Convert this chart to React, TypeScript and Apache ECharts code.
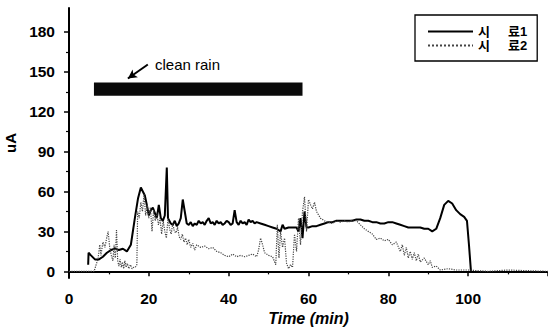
import React, { useEffect, useRef } from "react";
import * as echarts from "echarts";

const yLabelValues = [0, 30, 60, 90, 120, 150, 180];
const yMinorValues = [15, 45, 75, 105, 135, 165];
const seriesNames = ["시     료1", "시     료2"];

const s1Time = [4.8, 4.9, 5.5, 6.5, 7.5, 8.5, 9.5, 10.5, 11.5, 12.5, 13.5, 14.5, 15.5, 16.5, 17.3, 18, 18.5, 19, 19.5, 20, 20.5, 21, 21.5, 22, 22.5, 23, 23.5, 24, 24.5, 24.8, 25.5, 26, 26.5, 27, 27.5, 28, 28.5, 29, 29.5, 30, 30.5, 31, 31.5, 32, 32.5, 33, 33.5, 34, 34.5, 35, 35.5, 36, 36.5, 37, 37.5, 38, 38.5, 39, 39.5, 40, 40.5, 41, 41.5, 42, 42.5, 43, 43.5, 44, 44.5, 45, 45.5, 46, 46.5, 47, 48, 49, 50, 51, 52, 53, 53.5, 54, 55, 56, 57, 57.5, 58, 58.5, 59, 59.5, 60, 61, 62, 63, 64, 65, 66, 67, 68, 69, 70, 71, 72, 73, 74, 75, 76, 77, 78, 79, 80, 81, 82, 83, 84, 85, 86, 87, 88, 89, 90, 91, 92, 93, 94, 95, 96, 97, 98, 99, 99.7, 100.2, 100.7];
const s1Value = [5, 14, 12, 9, 9, 11, 14, 16, 17, 16, 17, 15, 20, 40, 55, 63, 60, 57, 50, 42, 46, 48, 44, 40, 50, 40, 38, 42, 78, 40, 36, 35, 38, 34, 36, 40, 54, 45, 36, 35, 37, 34, 36, 35, 38, 36, 37, 35, 38, 40, 36, 37, 35, 38, 36, 37, 35, 36, 38, 37, 35, 36, 46, 37, 35, 38, 36, 37, 35, 39, 37, 38, 36, 37, 36, 35, 34, 33, 32, 30, 35, 32, 33, 33, 33, 30, 40, 25, 45, 33, 33, 34, 34, 35, 36, 37, 37, 38, 38, 38, 38, 38, 39, 39, 38, 38, 37, 37, 36, 36, 37, 37, 36, 35, 34, 33, 33, 33, 33, 32, 32, 30, 32, 40, 50, 53, 51, 46, 43, 41, 38, 20, 0];

const s2Time = [0, 6.3, 6.8, 7.3, 7.7, 8, 8.5, 9, 9.5, 9.8, 10.2, 10.6, 11, 11.3, 11.6, 11.9, 12.2, 12.5, 12.8, 13.1, 13.4, 13.7, 14, 14.3, 14.6, 15, 15.4, 15.8, 16.2, 16.6, 17, 17.2, 17.6, 18, 18.4, 18.8, 19.2, 19.6, 20, 20.4, 20.8, 21.2, 21.6, 22, 22.4, 22.8, 23.2, 23.6, 24, 24.4, 24.8, 25.2, 25.6, 26, 26.4, 26.8, 27.2, 27.6, 28, 28.4, 28.8, 29.2, 29.6, 30, 30.5, 31, 31.5, 32, 33, 34, 35, 36, 37, 38, 39, 40, 41, 42, 43, 44, 45, 46, 47, 47.5, 48, 48.5, 49, 50, 51, 51.8, 52.2, 52.6, 53, 53.5, 54, 54.5, 55, 55.5, 56, 56.5, 57, 57.5, 58, 58.5, 59, 59.5, 60, 60.5, 61, 61.5, 62, 63, 64, 65, 66, 67, 68, 69, 70, 71, 72, 73, 74, 75, 76, 77, 78, 79, 80, 81, 82, 83, 83.5, 84, 84.5, 85, 85.5, 86, 86.5, 87, 87.5, 88, 89, 90, 90.5, 91, 92, 93, 95, 97, 100, 105, 110, 115, 120];
const s2Value = [0, 0, 5, 10, 20, 12, 22, 18, 26, 30, 18, 12, 8, 20, 10, 31, 8, 4, 9, 3, 7, 2, 8, 3, 6, 2, 5, 2, 3, 3, 5, 45, 40, 52, 45, 58, 42, 50, 40, 48, 30, 46, 38, 44, 35, 40, 28, 38, 30, 25, 40, 32, 28, 36, 30, 29, 33, 26, 24, 28, 22, 25, 20, 24, 18, 21, 16, 20, 18, 19, 17, 18, 15, 14, 12, 11, 13, 11, 12, 11, 12, 13, 11, 16, 25, 20, 14, 12, 11, 5, 35, 10, 30, 18, 25, 6, 2, 5, 3, 28, 15, 40, 20, 45, 56, 30, 54, 50, 47, 52, 45, 40, 38, 37, 36, 38, 37, 38, 37, 39, 38, 35, 32, 30, 28, 24, 25, 23, 24, 20, 22, 15, 20, 12, 18, 10, 15, 9, 14, 8, 13, 7, 10, 5, 8, 3, 4, 1, 2, 1, 1, 0, 1, 0.5, 0];

const cleanRainTime = [6.25, 58.5];
const cleanRainLevel = [132, 142];
const arrowFrom = [14.75, 145];
const arrowTo = [19.75, 155.5];

export default function App() {
  const ref = useRef<HTMLDivElement>(null);
  useEffect(() => {
    document.body.style.margin = "0";
    const chart = echarts.init(ref.current!, null, { renderer: "svg" });
    const s1 = s1Time.map((t, i) => [t, s1Value[i]]);
    const s2 = s2Time.map((t, i) => [t, s2Value[i]]);
    const labelFont = { fontFamily: "Liberation Sans", fontWeight: "bold" as const, fontSize: 15.5, color: "#000" };
    chart.setOption({
      animation: false,
      backgroundColor: "#fff",
      grid: { left: 69, right: 0, top: 8, bottom: 54, outerBoundsMode: "none", containLabel: false },
      legend: {
        left: 415,
        top: 15,
        orient: "vertical",
        padding: [10, 10, 9, 12],
        itemGap: 1,
        itemWidth: 45,
        itemHeight: 14,
        borderColor: "#000",
        borderWidth: 1.3,
        data: seriesNames,
        itemStyle: { opacity: 0 },
        textStyle: { fontSize: 13, fontWeight: "bold", fontFamily: "Liberation Sans, Noto Sans CJK KR", color: "#000" },
      },
      xAxis: {
        type: "value",
        min: 0,
        max: 120,
        interval: 20,
        name: "Time (min)",
        nameLocation: "middle",
        nameGap: 22,
        nameTextStyle: { fontFamily: "Liberation Sans", fontWeight: "bold", fontStyle: "italic", fontSize: 16, color: "#000" },
        axisLine: { lineStyle: { color: "#000", width: 2 } },
        axisTick: { inside: false, length: 5, lineStyle: { color: "#000", width: 1.5 } },
        minorTick: { show: true, splitNumber: 2, length: 3, lineStyle: { color: "#000", width: 1.2 } },
        splitLine: { show: false },
        axisLabel: { ...labelFont, margin: 12, showMaxLabel: false },
      },
      yAxis: [
        {
          type: "value",
          min: -5,
          max: 198,
          name: "uA",
          nameLocation: "middle",
          nameGap: 49,
          nameTextStyle: { fontFamily: "Liberation Sans", fontWeight: "bold", fontSize: 15, color: "#000" },
          axisLine: { show: true, lineStyle: { color: "#000", width: 2 } },
          axisTick: { show: true, length: 5, customValues: yLabelValues, lineStyle: { color: "#000", width: 1.5 } },
          axisLabel: { ...labelFont, margin: 14, customValues: yLabelValues },
          splitLine: { show: false },
        },
        {
          type: "value",
          min: -5,
          max: 198,
          position: "left",
          axisLine: { show: false },
          axisTick: { show: true, length: 3, customValues: yMinorValues, lineStyle: { color: "#000", width: 1.2 } },
          axisLabel: { show: false },
          splitLine: { show: false },
        },
      ],
      series: [
        {
          name: seriesNames[0],
          type: "line",
          data: s1,
          symbol: "none",
          lineStyle: { color: "#000", width: 2 },
          itemStyle: { color: "#000" },
          markArea: {
            silent: true,
            itemStyle: { color: "#0a0a0a" },
            data: [[{ coord: [cleanRainTime[0], cleanRainLevel[0]] }, { coord: [cleanRainTime[1], cleanRainLevel[1]] }]],
          },
          markLine: {
            silent: true,
            symbol: ["arrow", "none"],
            symbolSize: [7, 9],
            label: { show: false },
            lineStyle: { color: "#000", width: 2, type: "solid" },
            data: [[{ coord: arrowFrom }, { coord: arrowTo }]],
          },
        },
        {
          name: seriesNames[1],
          type: "line",
          data: s2,
          symbol: "none",
          lineStyle: { color: "#444", width: 1.2, type: "dotted" },
          itemStyle: { color: "#444" },
        },
      ],
      graphic: [
        {
          type: "text",
          left: 155,
          top: 57,
          style: { text: "clean rain", fontFamily: "Liberation Sans", fontSize: 15, fill: "#000" },
        },
      ],
    });
    return () => chart.dispose();
  }, []);
  return <div ref={ref} style={{ width: 548, height: 332 }} />;
}
